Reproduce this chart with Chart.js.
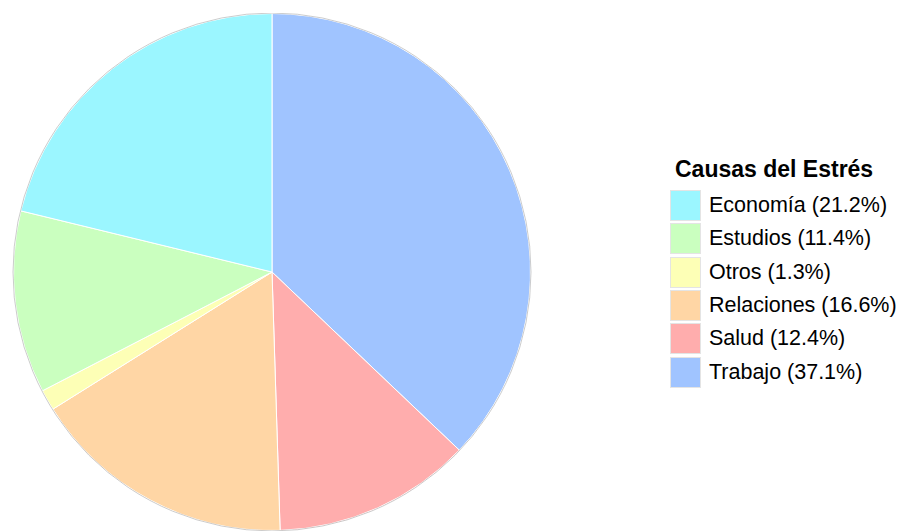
<!DOCTYPE html>
<html>
<head>
<meta charset="utf-8">
<script src="https://cdn.jsdelivr.net/npm/chart.js@4"></script>
<style>
    html, body { margin: 0; padding: 0; width: 901px; height: 531px; overflow: hidden; background: #fff; }
    #pieBox { position: absolute; left: 12px; top: 13px; width: 520px; height: 518px; }
    #legend { position: absolute; left: 670px; top: 155px; font-family: "Liberation Sans", Arial, sans-serif; color: #000; }
    #legend .title { font-weight: bold; font-size: 23px; margin: 0 0 6px 5px; line-height: 28px; }
    #legend .row { display: flex; align-items: center; height: 33.3px; }
    #legend .key { width: 31px; height: 31px; box-sizing: border-box; border: 1px solid #e4e4e4; margin-right: 8px; }
    #legend .lbl { font-size: 21.5px; }
</style>
</head>
<body>
<div id="pieBox"><canvas id="pie"></canvas></div>
<div id="legend"></div>
<script>
    // slices, clockwise from 12 o'clock
    const categories = ['Trabajo', 'Salud', 'Relaciones', 'Otros', 'Estudios', 'Economía'];
    const shares = [37.1, 12.4, 16.6, 1.3, 11.4, 21.2];
    const colors = ['#A0C4FF', '#FFADAD', '#FFD6A5', '#FDFFB6', '#CAFFBF', '#9BF6FF'];
    const legendTitle = 'Causas del Estrés';

    // faint grey rim around the pie
    const rim = {
        id: 'rim',
        afterDatasetsDraw(chart) {
            const arc = chart.getDatasetMeta(0).data[0];
            if (!arc) return;
            const ctx = chart.ctx;
            ctx.save();
            ctx.beginPath();
            ctx.arc(arc.x, arc.y, arc.outerRadius + 0.5, 0, Math.PI * 2);
            ctx.strokeStyle = 'rgba(150,150,150,0.6)';
            ctx.lineWidth = 0.8;
            ctx.stroke();
            ctx.restore();
        }
    };

    new Chart(document.getElementById('pie'), {
        type: 'pie',
        data: {
            labels: categories,
            datasets: [{
                data: shares,
                backgroundColor: colors,
                borderColor: '#ffffff',
                borderWidth: 1
            }]
        },
        options: {
            responsive: true,
            maintainAspectRatio: false,
            animation: false,
            layout: { padding: 0 },
            plugins: {
                legend: { display: false },
                tooltip: { enabled: false }
            }
        },
        plugins: [rim]
    });

    // legend in alphabetical order, like the reference
    const legend = document.getElementById('legend');
    const title = document.createElement('div');
    title.className = 'title';
    title.textContent = legendTitle;
    legend.appendChild(title);
    const order = categories.map((c, i) => i).sort((a, b) => categories[a].localeCompare(categories[b], 'es'));
    order.forEach((i) => {
        const row = document.createElement('div');
        row.className = 'row';
        const key = document.createElement('div');
        key.className = 'key';
        key.style.background = colors[i];
        const lbl = document.createElement('span');
        lbl.className = 'lbl';
        lbl.textContent = categories[i] + ' (' + shares[i].toFixed(1) + '%)';
        row.appendChild(key);
        row.appendChild(lbl);
        legend.appendChild(row);
    });
</script>
</body>
</html>
